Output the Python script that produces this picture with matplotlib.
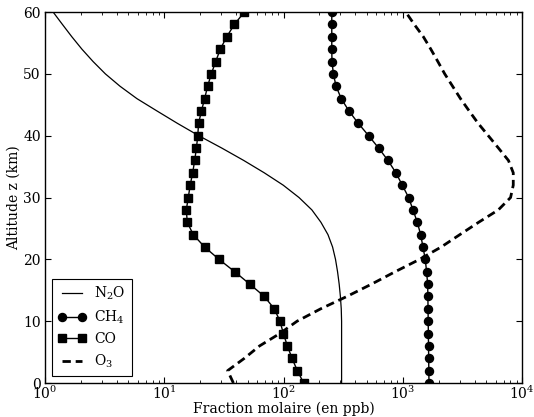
import matplotlib
matplotlib.use("Agg")
import matplotlib.pyplot as plt
from matplotlib.ticker import LogLocator, NullFormatter

plt.rcParams['font.family'] = ['DejaVu Serif']
plt.rcParams['mathtext.fontset'] = 'dejavuserif'
plt.rcParams['font.size'] = 10
plt.rcParams['lines.scale_dashes'] = False

altitude = list(range(0, 62, 2))

n2o = [307, 307, 307, 307, 307, 307, 305, 300, 293, 284, 273, 258, 236, 206, 173,
       135, 99.5, 69, 46.4, 30.4, 19.5, 12.9, 8.7, 5.9, 4.26, 3.21, 2.53, 2.04, 1.68,
       1.40, 1.17]

ch4 = [1660, 1655, 1650, 1645, 1640, 1635, 1630, 1625, 1618, 1585, 1545, 1478, 1413,
       1325, 1219, 1121, 991, 877, 752, 628, 518, 424, 354, 305, 276, 262, 255, 254,
       254, 254, 254]

co = [147.6, 130.6, 117.9, 107.8, 99.7, 93.5, 83.7, 69.1, 52.1, 39.0, 28.8, 21.8, 17.5,
      15.6, 15.3, 15.9, 16.5, 17.3, 18.0, 18.6, 19.1, 19.4, 20.5, 21.8, 23.1, 24.8, 27.0,
      29.5, 33.4, 38.7, 46.9]

o3 = [38, 34, 47, 63, 93, 130, 205, 340, 548, 863, 1384, 2100, 3010, 4330, 6330, 8020,
      8450, 8450, 7700, 6350, 5220, 4290, 3610, 3050, 2620, 2250, 1970, 1720, 1490, 1250, 1060]

labels = ['N$_2$O', 'CH$_4$', 'CO', 'O$_3$']

fig = plt.figure(figsize=(5.34, 4.17), dpi=100)
ax = fig.add_axes([0.0843, 0.0815, 0.9775 - 0.0843, 0.971 - 0.0815])

ax.plot(n2o, altitude, color='black', lw=0.9, label=labels[0])
ax.plot(ch4, altitude, color='black', lw=1.0, marker='o', markersize=5.8, label=labels[1])
ax.plot(co, altitude, color='black', lw=1.0, marker='s', markersize=5.3, label=labels[2])
ax.plot(o3, altitude, color='black', lw=2.0, linestyle=(0, (6, 3.5)), label=labels[3])

ax.set_xscale('log')
ax.set_xlim(1, 1e4)
ax.set_ylim(0, 60)
ax.set_yticks([0, 10, 20, 30, 40, 50, 60])
ax.xaxis.set_minor_locator(LogLocator(base=10, subs=range(2, 10), numticks=20))
ax.xaxis.set_minor_formatter(NullFormatter())

ax.tick_params(which='both', direction='in', top=True, right=True)
ax.tick_params(which='major', length=4, width=0.8)
ax.tick_params(which='minor', length=2, width=0.6)
ax.tick_params(axis='x', which='major', pad=1.5)
ax.tick_params(axis='y', which='major', pad=3)
for s in ax.spines.values():
    s.set_linewidth(1.0)

ax.set_xlabel('Fraction molaire (en ppb)', labelpad=-0.5)
ax.set_ylabel('Altitude z (km)', labelpad=2)

leg = ax.legend(loc='lower left', numpoints=2, fancybox=False, edgecolor='black',
                framealpha=1, handlelength=2.0, borderaxespad=0.5, labelspacing=0.45,
                handletextpad=0.6, borderpad=0.45)
leg.get_frame().set_linewidth(0.8)

fig.savefig('out.png', dpi=100)
